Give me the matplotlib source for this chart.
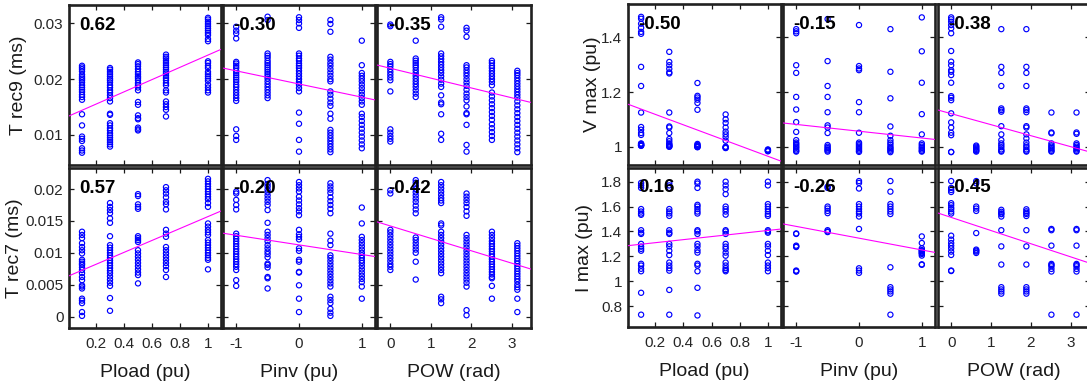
import numpy as np
import matplotlib
matplotlib.use("Agg")
import matplotlib.pyplot as plt

plt.rcParams['font.family'] = ['Liberation Sans', 'DejaVu Sans']

# x levels of the three inputs
pload_levels = [0.1, 0.3, 0.5, 0.7, 1.0]
pinv_levels = [-1, -0.5, 0, 0.5, 1]
pow_levels = [0, 0.628, 1.257, 1.885, 2.513, 3.142]

# ---- T rec9 (ms) ----
trec9_pload = [
    [0.0224, 0.0221, 0.0218, 0.0214, 0.0208, 0.0204, 0.0201, 0.0198, 0.0194, 0.0189, 0.0185, 0.0181, 0.0177,
     0.0172, 0.0168, 0.0163, 0.0137, 0.0117, 0.0097, 0.0093, 0.0089, 0.0076, 0.0072, 0.0068],
    [0.022, 0.0217, 0.0213, 0.0209, 0.0205, 0.0201, 0.0198, 0.0194, 0.0189, 0.0185, 0.018, 0.0176, 0.0171,
     0.0166, 0.016, 0.0138, 0.0136, 0.0121, 0.0117, 0.0112, 0.0108, 0.0103, 0.0099, 0.0095, 0.0091, 0.0087,
     0.0083, 0.0079],
    [0.023, 0.0227, 0.0223, 0.0218, 0.0213, 0.0209, 0.0205, 0.0202, 0.0198, 0.0193, 0.0189, 0.0185, 0.018,
     0.0159, 0.0154, 0.0135, 0.013, 0.0128, 0.0113, 0.011, 0.0108],
    [0.0244, 0.024, 0.0237, 0.0233, 0.0229, 0.0225, 0.0221, 0.0217, 0.0213, 0.021, 0.0206, 0.0202, 0.0198,
     0.0193, 0.0189, 0.018, 0.0176, 0.016, 0.0155, 0.015, 0.0145, 0.0133],
    [0.031, 0.0307, 0.0303, 0.0299, 0.0295, 0.0291, 0.0287, 0.0283, 0.0279, 0.0272, 0.0268, 0.0232, 0.0229,
     0.0224, 0.022, 0.0213, 0.0209, 0.0205, 0.0201, 0.0197, 0.019, 0.0185, 0.018, 0.0176],
]
trec9_pinv = [
    [0.0294, 0.0287, 0.0282, 0.0273, 0.0231, 0.0228, 0.0224, 0.022, 0.0215, 0.0211, 0.0207, 0.0203, 0.0199,
     0.0195, 0.019, 0.0186, 0.0181, 0.0176, 0.0171, 0.0166, 0.0161, 0.011, 0.0098, 0.0091],
    [0.0312, 0.0306, 0.0246, 0.0242, 0.0238, 0.0233, 0.0229, 0.0225, 0.0221, 0.0217, 0.0213, 0.0209, 0.0205,
     0.0201, 0.0196, 0.0191, 0.0186, 0.0181, 0.0176, 0.0171, 0.0166],
    [0.0311, 0.0306, 0.03, 0.0292, 0.0246, 0.0242, 0.0237, 0.0233, 0.0228, 0.0224, 0.022, 0.0215, 0.021,
     0.0205, 0.02, 0.0195, 0.019, 0.0184, 0.0178, 0.014, 0.012, 0.0091, 0.007],
    [0.0306, 0.0299, 0.0285, 0.024, 0.0235, 0.0229, 0.0224, 0.0218, 0.0212, 0.0206, 0.02, 0.0196, 0.0178,
     0.0172, 0.0165, 0.0158, 0.0152, 0.0138, 0.0129, 0.0109, 0.0104, 0.0099, 0.0094, 0.0089, 0.0084, 0.0079,
     0.0074, 0.0069],
    [0.0269, 0.0225, 0.0211, 0.0206, 0.0201, 0.0196, 0.019, 0.0184, 0.0178, 0.0172, 0.0166, 0.016, 0.0154,
     0.0138, 0.0132, 0.0125, 0.0118, 0.0111, 0.0104, 0.0097, 0.009, 0.0083, 0.0076],
]
trec9_pow = [
    [0.0298, 0.0295, 0.0231, 0.0227, 0.0223, 0.0218, 0.0213, 0.0208, 0.0203, 0.0198, 0.0178, 0.011, 0.0104,
     0.0098, 0.0093, 0.0088],
    [0.0269, 0.0237, 0.0233, 0.0229, 0.0225, 0.0221, 0.0216, 0.0211, 0.0206, 0.0201, 0.0196, 0.0191, 0.0186,
     0.018, 0.0174, 0.0168],
    [0.0311, 0.0307, 0.0294, 0.0246, 0.0241, 0.0236, 0.0231, 0.0226, 0.0221, 0.0216, 0.0211, 0.0205, 0.0199,
     0.0192, 0.0186, 0.0171, 0.0158, 0.0155, 0.0137, 0.0102, 0.0091],
    [0.0292, 0.0287, 0.0276, 0.0225, 0.0221, 0.0216, 0.0211, 0.0206, 0.02, 0.0194, 0.0188, 0.0181, 0.0174,
     0.0168, 0.0162, 0.0151, 0.0139, 0.0137, 0.0118, 0.0082, 0.007],
    [0.0233, 0.0229, 0.0224, 0.022, 0.0215, 0.021, 0.0205, 0.02, 0.0195, 0.0189, 0.0176, 0.0169, 0.0162,
     0.0155, 0.0148, 0.0141, 0.0134, 0.0127, 0.0119, 0.0112, 0.0105, 0.0098, 0.0091],
    [0.0215, 0.0211, 0.0207, 0.0202, 0.0197, 0.0192, 0.0187, 0.0182, 0.0177, 0.0172, 0.0167, 0.016, 0.0153,
     0.0146, 0.0139, 0.0132, 0.0125, 0.0118, 0.0111, 0.0104, 0.0097, 0.009, 0.0083, 0.0076, 0.0069],
]

# ---- T rec7 (ms) ----
trec7_pload = [
    [0.0133, 0.0128, 0.0123, 0.0115, 0.0109, 0.0104, 0.0099, 0.0089, 0.0086, 0.0083, 0.0081, 0.0077, 0.0073,
     0.0068, 0.0062, 0.0057, 0.0049, 0.0047, 0.0044, 0.0028, 0.0025, 0.0021, 0.0007, 0.0001],
    [0.0178, 0.0172, 0.0167, 0.0162, 0.0154, 0.0147, 0.0126, 0.0112, 0.0108, 0.0104, 0.01, 0.0096, 0.0092,
     0.0088, 0.0084, 0.008, 0.0076, 0.0072, 0.0068, 0.0063, 0.0058, 0.0053, 0.0048, 0.0029, 0.0009],
    [0.0192, 0.0189, 0.0176, 0.0172, 0.0169, 0.0126, 0.0123, 0.012, 0.0117, 0.0104, 0.0099, 0.0094, 0.0089,
     0.0084, 0.0079, 0.0074, 0.0069, 0.0065, 0.0052],
    [0.0203, 0.0198, 0.0193, 0.0187, 0.018, 0.0176, 0.0168, 0.0136, 0.013, 0.0125, 0.0109, 0.0104, 0.0099,
     0.0094, 0.0089, 0.0084, 0.0079, 0.0073, 0.0062],
    [0.0216, 0.0212, 0.0208, 0.0204, 0.02, 0.0196, 0.0192, 0.0188, 0.0184, 0.0178, 0.0172, 0.0146, 0.0141,
     0.0136, 0.0132, 0.0128, 0.012, 0.0116, 0.0112, 0.0108, 0.0104, 0.01, 0.0096, 0.0092, 0.0089, 0.0074],
]
trec7_pinv = [
    [0.0196, 0.0193, 0.0183, 0.0175, 0.0168, 0.013, 0.0126, 0.0122, 0.0118, 0.0114, 0.011, 0.0106, 0.0102,
     0.0098, 0.0094, 0.009, 0.0086, 0.0082, 0.0078, 0.0073, 0.0057, 0.0048],
    [0.0214, 0.0208, 0.0204, 0.0199, 0.0195, 0.019, 0.0185, 0.018, 0.0175, 0.0167, 0.0147, 0.0133, 0.0128,
     0.0123, 0.0118, 0.0112, 0.0107, 0.0102, 0.0098, 0.0093, 0.0083, 0.0081, 0.0077, 0.0062, 0.006, 0.0044],
    [0.0211, 0.0206, 0.0201, 0.0196, 0.0188, 0.0182, 0.0176, 0.017, 0.0165, 0.0159, 0.0136, 0.0129, 0.0125,
     0.0121, 0.0107, 0.0103, 0.0089, 0.0086, 0.007, 0.0069, 0.0049, 0.0028, 0.0007],
    [0.0209, 0.0204, 0.0199, 0.0194, 0.0187, 0.0181, 0.0175, 0.0169, 0.0162, 0.013, 0.0119, 0.0112, 0.0096,
     0.0092, 0.0087, 0.0082, 0.0077, 0.0072, 0.0067, 0.0062, 0.0057, 0.0052, 0.0047, 0.0031, 0.0026, 0.0021,
     0.0012, 0.0006, 0.0001],
    [0.0171, 0.0146, 0.0125, 0.012, 0.0115, 0.011, 0.0105, 0.01, 0.0096, 0.0092, 0.0088, 0.0084, 0.0079,
     0.0074, 0.0069, 0.0064, 0.0059, 0.0054, 0.0047, 0.0028],
]
trec7_pow = [
    [0.0198, 0.0193, 0.0136, 0.0132, 0.0127, 0.0122, 0.0117, 0.0112, 0.0107, 0.0102, 0.0097, 0.0092, 0.0087,
     0.0082, 0.0078, 0.0073],
    [0.0214, 0.021, 0.0205, 0.02, 0.0195, 0.019, 0.0185, 0.018, 0.0174, 0.0168, 0.0162, 0.0124, 0.012, 0.0115,
     0.011, 0.0105, 0.01, 0.0086, 0.0058],
    [0.0211, 0.0206, 0.0201, 0.0196, 0.0191, 0.0186, 0.0182, 0.0178, 0.0146, 0.0143, 0.0133, 0.0128, 0.0123,
     0.0118, 0.0113, 0.0108, 0.0103, 0.0098, 0.0093, 0.0088, 0.0083, 0.0078, 0.0073, 0.0068, 0.0031, 0.0027,
     0.0021],
    [0.0193, 0.0188, 0.0183, 0.0178, 0.0172, 0.0165, 0.0158, 0.0128, 0.0123, 0.0118, 0.0113, 0.0108, 0.0103,
     0.0098, 0.0093, 0.0088, 0.0083, 0.0078, 0.0073, 0.0068, 0.0063, 0.0058, 0.0053, 0.0047, 0.001, 0.0002],
    [0.0133, 0.0128, 0.0123, 0.0118, 0.0114, 0.011, 0.0106, 0.0102, 0.0098, 0.0094, 0.009, 0.0086, 0.0082,
     0.0078, 0.0074, 0.007, 0.0066, 0.0062, 0.006, 0.0048, 0.0028],
    [0.0115, 0.0111, 0.0107, 0.0103, 0.0099, 0.0095, 0.0091, 0.0087, 0.0083, 0.0079, 0.0075, 0.0071, 0.0067,
     0.0063, 0.0059, 0.0055, 0.005, 0.0046, 0.0042, 0.0028, 0.0007],
]

# ---- V max (pu) ----
vmax_pload = [
    [1.475, 1.468, 1.45, 1.435, 1.42, 1.413, 1.292, 1.222, 1.125, 1.072, 1.062, 1.05, 1.043, 1.012, 1.01,
     1.008, 1.006, 1.005, 1.004, 1.003],
    [1.347, 1.31, 1.298, 1.285, 1.272, 1.268, 1.125, 1.074, 1.07, 1.05, 1.028, 1.02, 1.012, 1.008, 1.005,
     1.003, 1.0, 1.0],
    [1.233, 1.186, 1.18, 1.172, 1.16, 1.135, 1.01, 1.006, 1.003, 1.0, 0.999, 0.998],
    [1.118, 1.1, 1.087, 1.07, 1.055, 1.045, 1.035, 1.022, 1.0, 0.998, 0.996, 0.995],
    [0.99, 0.988, 0.986, 0.985, 0.983],
]
vmax_pinv = [
    [1.43, 1.422, 1.415, 1.298, 1.27, 1.182, 1.136, 1.09, 1.054, 1.024, 1.015, 1.01, 1.005, 1.0, 0.996, 0.99,
     0.985, 0.982],
    [1.467, 1.313, 1.222, 1.182, 1.126, 1.078, 1.07, 1.05, 1.006, 1.0, 0.995, 0.99, 0.986, 0.982],
    [1.445, 1.295, 1.286, 1.28, 1.163, 1.126, 1.051, 1.015, 1.01, 1.005, 1.0, 0.995, 0.99, 0.985, 0.981],
    [1.43, 1.274, 1.177, 1.074, 1.04, 1.024, 1.015, 1.008, 1.0, 0.995, 0.99, 0.985, 0.98],
    [1.473, 1.349, 1.234, 1.119, 1.045, 1.012, 1.006, 1.0, 0.995, 0.99, 0.985, 0.982],
]
vmax_pow = [
    [1.473, 1.466, 1.457, 1.445, 1.433, 1.415, 1.35, 1.311, 1.298, 1.28, 1.274, 1.262, 1.234, 1.185, 1.179,
     1.17, 1.122, 1.089, 1.07, 1.051, 1.042, 0.981, 0.98],
    [1.004, 1.0, 0.996, 0.992, 0.988, 0.985, 0.982],
    [1.43, 1.292, 1.27, 1.222, 1.14, 1.134, 1.128, 1.075, 1.045, 1.024, 1.012, 1.005, 0.998, 0.99, 0.985,
     0.982],
    [1.43, 1.292, 1.27, 1.222, 1.14, 1.134, 1.126, 1.075, 1.07, 1.045, 1.03, 1.015, 1.005, 0.998, 0.99,
     0.985, 0.982],
    [1.125, 1.052, 1.049, 1.012, 1.005, 1.0, 0.995, 0.99, 0.985, 0.982],
    [1.125, 1.052, 1.047, 1.012, 1.006, 1.0, 0.995, 0.99, 0.985, 0.982],
]

# ---- I max (pu) ----
imax_pload = [
    [1.79, 1.77, 1.75, 1.58, 1.56, 1.544, 1.534, 1.41, 1.39, 1.38, 1.3, 1.278, 1.26, 1.245, 1.14, 1.126, 1.1,
     1.08, 0.907, 0.731],
    [1.79, 1.77, 1.75, 1.58, 1.56, 1.545, 1.525, 1.41, 1.39, 1.38, 1.3, 1.28, 1.245, 1.21, 1.15, 1.126, 1.105,
     1.085, 0.93, 0.731],
    [1.8, 1.785, 1.75, 1.614, 1.6, 1.58, 1.56, 1.544, 1.41, 1.4, 1.38, 1.3, 1.28, 1.25, 1.23, 1.14, 1.126,
     1.08, 0.947, 0.725],
    [1.8, 1.77, 1.74, 1.7, 1.6, 1.58, 1.56, 1.535, 1.41, 1.4, 1.38, 1.3, 1.278, 1.26, 1.23, 1.205, 1.15,
     1.126, 1.105, 1.09, 1.08],
    [1.8, 1.77, 1.62, 1.6, 1.58, 1.56, 1.54, 1.525, 1.41, 1.4, 1.39, 1.3, 1.28, 1.245, 1.21, 1.15, 1.126,
     1.105, 1.08],
]
imax_pinv = [
    [1.384, 1.38, 1.286, 1.28, 1.275, 1.086, 1.08, 1.078],
    [1.76, 1.75, 1.6, 1.584, 1.565, 1.547, 1.41, 1.4, 1.395],
    [1.805, 1.79, 1.745, 1.62, 1.6, 1.58, 1.56, 1.544, 1.52, 1.42, 1.104, 1.086, 1.067],
    [1.805, 1.72, 1.62, 1.6, 1.58, 1.56, 1.54, 1.112, 0.952, 0.934, 0.918, 0.9, 0.731],
    [1.36, 1.307, 1.264, 1.25, 1.246, 1.24, 1.232, 1.226, 1.219, 1.206, 1.136, 1.132],
]
imax_pow = [
    [1.805, 1.75, 1.733, 1.717, 1.627, 1.611, 1.592, 1.579, 1.56, 1.544, 1.366, 1.334, 1.307, 1.286, 1.264,
     1.238, 1.211, 1.086, 1.082],
    [1.805, 1.787, 1.6, 1.584, 1.565, 1.387, 1.254, 1.246, 1.238, 1.227],
    [1.574, 1.558, 1.545, 1.539, 1.52, 1.41, 1.28, 1.134, 0.952, 0.934, 0.918, 0.9],
    [1.578, 1.562, 1.55, 1.54, 1.524, 1.41, 1.28, 1.134, 0.952, 0.934, 0.918, 0.9],
    [1.42, 1.41, 1.286, 1.139, 1.13, 1.12, 1.099, 1.078, 0.731],
    [1.42, 1.41, 1.286, 1.139, 1.13, 1.12, 1.099, 1.078, 0.731],
]

# least squares lines (intercept, slope) and correlation coefficients
trec9_fit = [(0.01332, 0.0110), (0.01913, -0.00236), (0.02195, -0.001762)]
trec7_fit = [(0.00632, 0.00936), (0.01124, -0.00151), (0.01421, -0.001945)]
vmax_fit = [(1.1567, -0.1917), (1.0566, -0.0249), (1.1208, -0.0403)]
imax_fit = [(1.285, 0.123), (1.346, -0.0947), (1.513, -0.1059)]
trec9_r = ["0.62", "-0.30", "-0.35"]
trec7_r = ["0.57", "-0.20", "-0.42"]
vmax_r = ["-0.50", "-0.15", "-0.38"]
imax_r = ["0.16", "-0.26", "-0.45"]

x_names = ["Pload (pu)", "Pinv (pu)", "POW (rad)"]
x_levels = [pload_levels, pinv_levels, pow_levels]
x_lims = [(0.007, 1.093), (-1.21, 1.21), (-0.33, 3.48)]
x_ticks = [[0.2, 0.4, 0.6, 0.8, 1], [-1, 0, 1], [0, 1, 2, 3]]
x_ticklabels = [["0.2", "0.4", "0.6", "0.8", "1"], ["-1", "0", "1"], ["0", "1", "2", "3"]]

W, H = 1087.0, 389.0
fig = plt.figure(figsize=(W / 100, H / 100), dpi=100)

tick_col = '0.15'

def make_panel(rect_px, cols, levels, fit, r_txt, xlim, ylim, xt, xtl, yt, ytl,
               first_col, bottom_row, xlab, ylab, ylab_x):
    l, t, r, b = rect_px
    ax = fig.add_axes([l / W, 1 - b / H, (r - l) / W, (b - t) / H])
    for xv, ys in zip(levels, cols):
        ax.scatter(np.full(len(ys), xv), ys, s=14, facecolors='none',
                   edgecolors=(0, 0, 1), linewidths=0.85, zorder=2)
    xs = np.array(xlim)
    ax.plot(xs, fit[0] + fit[1] * xs, color=(1, 0, 1), lw=0.8, zorder=3)
    ax.set_xlim(xlim)
    ax.set_ylim(ylim)
    ax.set_xticks(xt)
    ax.set_yticks(yt)
    ax.set_xticklabels(xtl if bottom_row else [])
    ax.set_yticklabels(ytl if first_col else [])
    ax.tick_params(direction='in', top=True, right=True, length=3.5, width=0.9,
                   labelsize=11, labelcolor=tick_col, color='0.1')
    ax.tick_params(axis='x', pad=6.5)
    ax.tick_params(axis='y', pad=4)
    for sp in ax.spines.values():
        sp.set_linewidth(1.9)
        sp.set_color('0.13')
    ax.text(0.07, 0.875, r_txt, transform=ax.transAxes, fontsize=13.5,
            fontweight='bold', ha='left', va='center', zorder=5)
    if bottom_row:
        ax.set_xlabel(xlab, fontsize=14, color='0.1', va='center')
        ax.xaxis.set_label_coords(0.5, -0.28)
    if first_col:
        ax.set_ylabel(ylab, fontsize=14, color='0.1', va='center')
        ax.yaxis.set_label_coords(ylab_x, 0.5)
    return ax

# left group
left_cols = [(69, 221), (223, 375), (377, 531)]
left_rows = [(5, 165), (168, 328)]
for j in range(3):
    make_panel((left_cols[j][0], left_rows[0][0], left_cols[j][1], left_rows[0][1]),
               [trec9_pload, trec9_pinv, trec9_pow][j], x_levels[j], trec9_fit[j], trec9_r[j],
               x_lims[j], (0.0046, 0.0333), x_ticks[j], x_ticklabels[j],
               [0.01, 0.02, 0.03], ["0.01", "0.02", "0.03"],
               j == 0, False, x_names[j], "T rec9 (ms)", -0.33)
    make_panel((left_cols[j][0], left_rows[1][0], left_cols[j][1], left_rows[1][1]),
               [trec7_pload, trec7_pinv, trec7_pow][j], x_levels[j], trec7_fit[j], trec7_r[j],
               x_lims[j], (-0.0018, 0.0233), x_ticks[j], x_ticklabels[j],
               [0, 0.005, 0.01, 0.015, 0.02], ["0", "0.005", "0.01", "0.015", "0.02"],
               j == 0, True, x_names[j], "T rec7 (ms)", -0.36)

# right group
right_cols = [(628, 781), (783, 935), (938, 1090)]
right_rows = [(4, 165), (168, 327)]
for j in range(3):
    make_panel((right_cols[j][0], right_rows[0][0], right_cols[j][1], right_rows[0][1]),
               [vmax_pload, vmax_pinv, vmax_pow][j], x_levels[j], vmax_fit[j], vmax_r[j],
               x_lims[j], (0.933, 1.522), x_ticks[j], x_ticklabels[j],
               [1, 1.2, 1.4], ["1", "1.2", "1.4"],
               j == 0, False, x_names[j], "V max (pu)", -0.235)
    make_panel((right_cols[j][0], right_rows[1][0], right_cols[j][1], right_rows[1][1]),
               [imax_pload, imax_pinv, imax_pow][j], x_levels[j], imax_fit[j], imax_r[j],
               x_lims[j], (0.632, 1.91), x_ticks[j], x_ticklabels[j],
               [0.8, 1, 1.2, 1.4, 1.6, 1.8], ["0.8", "1", "1.2", "1.4", "1.6", "1.8"],
               j == 0, True, x_names[j], "I max (pu)", -0.285)

fig.savefig("out.png", dpi=100)
